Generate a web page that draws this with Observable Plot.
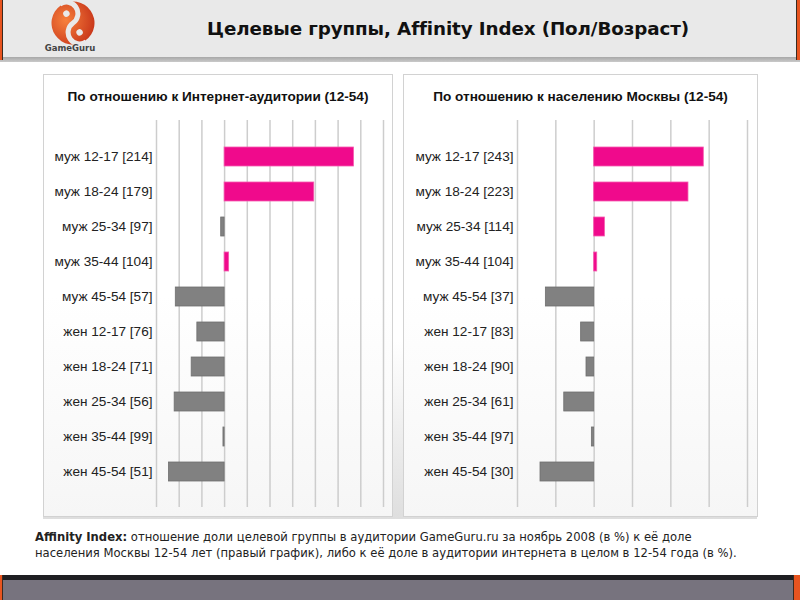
<!DOCTYPE html>
<html>
<head>
<meta charset="utf-8">
<script src="https://cdn.jsdelivr.net/npm/d3@7"></script>
<script src="https://cdn.jsdelivr.net/npm/@observablehq/plot@0.6"></script>
<style>
  html, body { margin: 0; padding: 0; }
  body { width: 800px; height: 600px; position: relative; overflow: hidden; background: #fff; font-family: "Liberation Sans", Arial, sans-serif; }
  .abs { position: absolute; }
  #header { left: 0; top: 0; width: 800px; height: 57px; background: #e9e9e9; }
  #headerLine { left: 0; top: 57px; width: 800px; height: 5px; background: linear-gradient(#a8a8a8, #c9c9c9); }
  #title { left: 100px; top: 18px; width: 696px; text-align: center; font-family: "DejaVu Sans", sans-serif; font-weight: bold; font-size: 18.3px; color: #111; letter-spacing: -0.1px; }
  .edge { background: #e8541f; border-right: 1px solid #3a2a20; }
  #backdrop { left: 43px; top: 74px; width: 714px; height: 445px; background: linear-gradient(#ffffff 60%, #dedede); }
  .panel { top: 74px; height: 443px; border: 1px solid #d2d2d2; background: linear-gradient(#ffffff 50%, #f6f6f6); box-sizing: border-box; }
  .ptitle { top: 89px; text-align: center; font-weight: bold; font-size: 13.6px; color: #111; }
  #caption { left: 35px; top: 529px; width: 760px; font-family: "DejaVu Sans", sans-serif; font-size: 11.6px; line-height: 16px; color: #222; white-space: nowrap; }
  #footLine { left: 0; top: 575px; width: 800px; height: 5px; background: #1f1f22; }
  #foot { left: 0; top: 580px; width: 800px; height: 20px; background: #77737e; }
</style>
</head>
<body>
<div id="header" class="abs"></div>
<div id="headerLine" class="abs"></div>
<div class="abs edge" style="left:0;top:0;width:2px;height:60px"></div>
<div class="abs edge" style="left:796px;top:0;width:4px;height:60px;border-right:none;border-left:1px solid #3a2a20"></div>
<svg class="abs" style="left:38px;top:0px" width="70" height="56" viewBox="0 0 70 56">
  <defs>
    <radialGradient id="lg" cx="40%" cy="35%" r="70%">
      <stop offset="0" stop-color="#f7803c"/>
      <stop offset="1" stop-color="#c8361a"/>
    </radialGradient>
  </defs>
  <g transform="rotate(-35 35 23)">
    <circle cx="35" cy="23" r="21.5" fill="url(#lg)"/>
    <path d="M35 0 A11.5 11.5 0 0 1 35 23 A11.5 11.5 0 0 0 35 46" fill="none" stroke="#e9e9e9" stroke-width="5"/>
    <circle cx="35" cy="11.5" r="3.2" fill="#e9e9e9"/>
    <circle cx="35" cy="34.5" r="3.2" fill="#e9e9e9"/>
  </g>
  <text x="32" y="51" text-anchor="middle" font-family="DejaVu Sans" font-weight="bold" font-size="8.5" fill="#444">GameGuru</text>
</svg>
<div id="title" class="abs">Целевые группы, Affinity Index (Пол/Возраст)</div>

<div id="backdrop" class="abs"></div>
<div class="abs panel" style="left:43px;width:350px"></div>
<div class="abs panel" style="left:403px;width:355px"></div>
<div class="abs ptitle" style="left:43px;width:350px">По отношению к Интернет-аудитории (12-54)</div>
<div class="abs ptitle" style="left:403px;width:355px">По отношению к населению Москвы (12-54)</div>

<div id="caption" class="abs"><b>Affinity Index:</b> отношение доли целевой группы в аудитории GameGuru.ru за ноябрь 2008 (в %) к её доле<br>населения Москвы 12-54 лет (правый график), либо к её доле в аудитории интернета в целом в 12-54 года (в %).</div>

<div id="footLine" class="abs"></div>
<div id="foot" class="abs"></div>
<div class="abs edge" style="left:0;top:575px;width:2px;height:25px"></div>
<div class="abs edge" style="left:793px;top:575px;width:7px;height:25px;border-right:none;border-left:1px solid #3a2a20"></div>

<script>
// ---- data ----
const categories = ["муж 12-17", "муж 18-24", "муж 25-34", "муж 35-44", "муж 45-54",
                    "жен 12-17", "жен 18-24", "жен 25-34", "жен 35-44", "жен 45-54"];
const internetValues = [214, 179, 97, 104, 57, 76, 71, 56, 99, 51];
const moscowValues   = [243, 223, 114, 104, 37, 83, 90, 61, 97, 30];
const internetTicks = [40, 60, 80, 100, 120, 140, 160, 180, 200, 220, 240];
const moscowTicks   = [0, 50, 100, 150, 200, 250, 300];
const baseline = 100;

const pink = "#f00a8c";
const gray = "#818181";

function chart(values, ticks, left, width, marginLeft, marginRight) {
  const data = categories.map((c, i) => ({cat: c, v: values[i], above: values[i] > baseline}));
  const svg = Plot.plot({
    width, height: 407,
    marginTop: 10, marginBottom: 10, marginLeft, marginRight,
    style: {fontFamily: "'Liberation Sans', Arial, sans-serif", fontSize: "13.6px", color: "#222", background: "transparent", overflow: "visible"},
    x: {domain: [ticks[0], ticks[ticks.length - 1]], axis: null},
    y: {domain: categories, paddingInner: 0.46, paddingOuter: 0.745, axis: null, label: null},
    color: {domain: [true, false], range: [pink, gray]},
    marks: [
      Plot.gridX(ticks, {stroke: "#cdcdcd", strokeOpacity: 1, strokeWidth: 1.5}),
      Plot.barX(data, {y: "cat", x1: d => baseline, x2: "v", fill: "above",
                       stroke: d => d.above ? "#f55aae" : "#6f6f6f", strokeWidth: 0.8}),
      Plot.axisY({anchor: "left", label: null, tickSize: 0, tickPadding: 4, fontSize: 13.6, fill: "#222",
                  tickFormat: c => `${c} [${values[categories.indexOf(c)]}]`})
    ]
  });
  svg.style.position = "absolute";
  svg.style.left = left + "px";
  svg.style.top = "110px";
  document.body.appendChild(svg);
}

chart(internetValues, internetTicks, 43, 349, 113, 9);
chart(moscowValues, moscowTicks, 403, 354, 114, 10);
</script>
</body>
</html>
